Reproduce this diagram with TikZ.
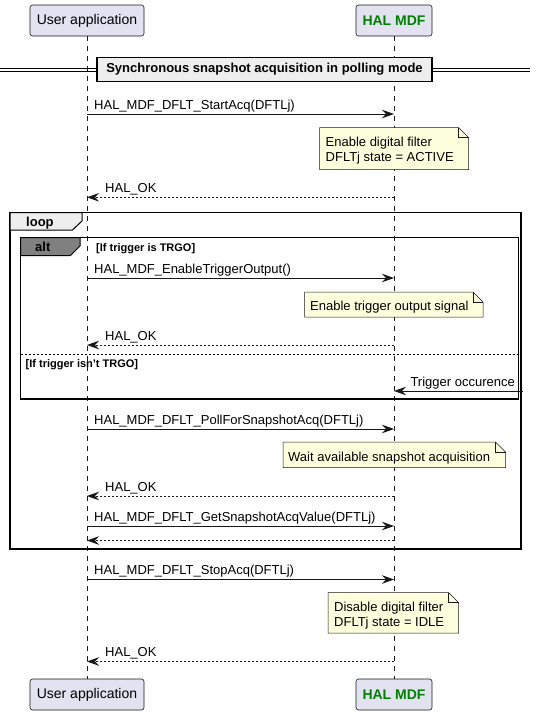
\documentclass[tikz,border=0pt]{standalone}
\usepackage{fontspec}
\setmainfont{Liberation Sans}
\usetikzlibrary{arrows.meta}
\definecolor{partfill}{HTML}{E2E2F0}
\definecolor{linecol}{HTML}{181818}
\definecolor{notefill}{HTML}{FEFFDD}
\definecolor{halgreen}{HTML}{008000}
\definecolor{tabfill}{HTML}{EEEEEE}
\definecolor{altfill}{HTML}{808080}
\begin{document}
\begin{tikzpicture}[x=1pt,y=-1pt,
  part/.style={draw=linecol, fill=partfill, rounded corners=2.5pt, line width=0.6pt,
    minimum width=#1, minimum height=31pt, inner sep=0pt, font=\fontsize{14}{16}\selectfont},
  lifeline/.style={draw=linecol, line width=0.5pt, dash pattern=on 5pt off 5pt},
  msg/.style={draw=linecol, line width=0.9pt, -{Stealth[length=12pt,width=8.5pt,inset=4pt]}},
  ret/.style={msg, dash pattern=on 2pt off 2pt},
  msglabel/.style={anchor=base west, inner sep=0pt, font=\fontsize{13}{15}\selectfont},
  notebox/.style={draw=linecol, fill=notefill, line width=0.5pt},
  notetext/.style={anchor=base west, inner sep=0pt, font=\fontsize{13}{15}\selectfont},
  frame/.style={draw=black, line width=1.7pt},
  tabtext/.style={anchor=base west, inner sep=0pt, font=\bfseries\fontsize{13}{15}\selectfont},
  guard/.style={anchor=base west, inner sep=0pt, font=\bfseries\fontsize{11}{13}\selectfont},
]
\useasboundingbox (0,0) rectangle (536,713);
\fill[white] (0,0) rectangle (536,713);

% participants
\node[part=114pt] (uTop) at (87,20.5) {User application};
\node[part=76pt, font=\bfseries\fontsize{14}{16}\selectfont, text=halgreen] (hTop) at (394,20.5) {HAL MDF};
\node[part=114pt] (uBot) at (87,694.5) {User application};
\node[part=76pt, font=\bfseries\fontsize{14}{16}\selectfont, text=halgreen] (hBot) at (394,694.5) {HAL MDF};

% lifelines
\draw[lifeline] (uTop.south) -- (uBot.north);
\draw[lifeline] (hTop.south) -- (hBot.north);

% divider
\coordinate (dl1) at (0,68); \coordinate (dr1) at (530,68);
\coordinate (dl2) at (0,71.5); \coordinate (dr2) at (530,71.5);
\draw[black, line width=1pt] (dl1) -- (dr1);
\draw[black, line width=1pt] (dl2) -- (dr2);
\node[draw=black, fill=tabfill, line width=1.7pt, minimum width=335pt, minimum height=24pt, inner sep=0pt,
  font=\bfseries\fontsize{13}{15}\selectfont] (divider) at (264.5,69.5) {Synchronous snapshot acquisition in polling mode};

% loop frame
\draw[frame] (10,212.5) rectangle (521,549);
\draw[black, line width=1pt, fill=tabfill] (10,212.5) -- (82,212.5) -- (82,221) -- (72.5,230) -- (10,230) -- cycle;
\node[tabtext] (looplbl) at (26,226.5) {loop};

% alt frame
\draw[frame] (20.5,237.5) rectangle (518.5,399);
\draw[black, line width=1pt, fill=altfill] (20.5,237.5) -- (80,237.5) -- (80,246) -- (70.5,255.5) -- (20.5,255.5) -- cycle;
\node[tabtext] (altlbl) at (35,251.5) {alt};
\node[guard] (g1) at (96,251.5) {[If trigger is TRGO]};
\draw[black, line width=0.8pt, dash pattern=on 2pt off 2pt] (20.5,354) -- (518.5,354);
\node[guard] (g2) at (25.5,367) {[If trigger isn't TRGO]};

% message 1
\coordinate (m1a) at (87,114); \coordinate (m1b) at (394,114);
\draw[msg] (m1a) -- (m1b);
\node[msglabel] (l1) at (94,109) {HAL\_MDF\_DFLT\_StartAcq(DFTLj)};

% note 1
\draw[notebox] (319.5,127.5) -- (458.5,127.5) -- (468.5,137.5) -- (468.5,169.5) -- (319.5,169.5) -- cycle;
\draw[linecol, line width=0.5pt] (458.5,127.5) -- (458.5,137.5) -- (468.5,137.5);
\node[notetext] (n1a) at (325.5,146) {Enable digital filter};
\node[notetext] (n1b) at (325.5,161) {DFLTj state = ACTIVE};

% return 1
\coordinate (r1a) at (87,197.3); \coordinate (r1b) at (394,197.3);
\draw[ret] (r1b) -- (r1a);
\node[msglabel] (lr1) at (105,192.3) {HAL\_OK};

% message 2
\coordinate (m2a) at (87,278); \coordinate (m2b) at (394,278);
\draw[msg] (m2a) -- (m2b);
\node[msglabel] (l2) at (94,273) {HAL\_MDF\_EnableTriggerOutput()};

% note 2
\draw[notebox] (304.5,292) -- (473,292) -- (483,302) -- (483,317) -- (304.5,317) -- cycle;
\draw[linecol, line width=0.5pt] (473,292) -- (473,302) -- (483,302);
\node[notetext] (n2) at (310,310.5) {Enable trigger output signal};

% return 2
\coordinate (r2a) at (87,345); \coordinate (r2b) at (394,345);
\draw[ret] (r2b) -- (r2a);
\node[msglabel] (lr2) at (105,340) {HAL\_OK};

% trigger
\coordinate (t0) at (523,391); \coordinate (t1) at (394,391);
\draw[msg] (t0) -- (t1);
\node[msglabel, anchor=base east] (lt) at (515,386) {Trigger occurence};

% message 3
\coordinate (m3a) at (87,429); \coordinate (m3b) at (394,429);
\draw[msg] (m3a) -- (m3b);
\node[msglabel] (l3) at (94,424) {HAL\_MDF\_DFLT\_PollForSnapshotAcq(DFTLj)};

% note 3
\draw[notebox] (283,442) -- (495.5,442) -- (505.5,452) -- (505.5,467.5) -- (283,467.5) -- cycle;
\draw[linecol, line width=0.5pt] (495.5,442) -- (495.5,452) -- (505.5,452);
\node[notetext] (n3) at (288,461) {Wait available snapshot acquisition};

% return 3
\coordinate (r3a) at (87,496); \coordinate (r3b) at (394,496);
\draw[ret] (r3b) -- (r3a);
\node[msglabel] (lr3) at (105,491) {HAL\_OK};

% message 4
\coordinate (m4a) at (87,526); \coordinate (m4b) at (394,526);
\draw[msg] (m4a) -- (m4b);
\node[msglabel] (l4) at (94,521) {HAL\_MDF\_DFLT\_GetSnapshotAcqValue(DFTLj)};

% return 4
\coordinate (r4a) at (87,540.5); \coordinate (r4b) at (394,540.5);
\draw[ret] (r4b) -- (r4a);

% message 5
\coordinate (m5a) at (87,579.5); \coordinate (m5b) at (394,579.5);
\draw[msg] (m5a) -- (m5b);
\node[msglabel] (l5) at (94,574.5) {HAL\_MDF\_DFLT\_StopAcq(DFTLj)};

% note 4
\draw[notebox] (328,592.5) -- (448.5,592.5) -- (458.5,602.5) -- (458.5,633) -- (328,633) -- cycle;
\draw[linecol, line width=0.5pt] (448.5,592.5) -- (448.5,602.5) -- (458.5,602.5);
\node[notetext] (n4a) at (334,611) {Disable digital filter};
\node[notetext] (n4b) at (334,626) {DFLTj state = IDLE};

% return 5
\coordinate (r5a) at (87,661.5); \coordinate (r5b) at (394,661.5);
\draw[ret] (r5b) -- (r5a);
\node[msglabel] (lr5) at (105,656.5) {HAL\_OK};
\end{tikzpicture}
\end{document}
